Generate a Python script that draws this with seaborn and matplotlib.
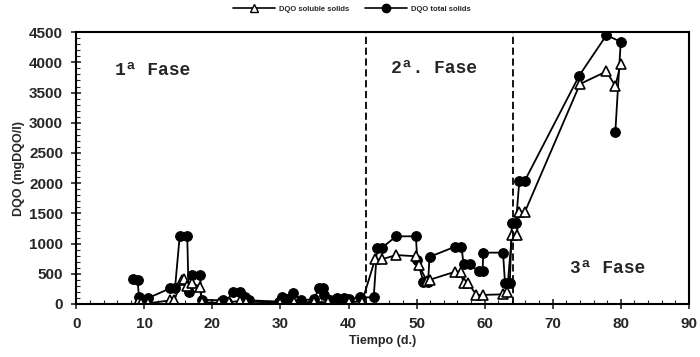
import matplotlib
matplotlib.use("Agg")
import matplotlib.pyplot as plt
import seaborn as sns
import pandas as pd
from matplotlib.lines import Line2D
from matplotlib.ticker import MultipleLocator

sns.set_style("white")
plt.rcParams['font.family'] = ['Liberation Sans', 'DejaVu Sans']

# DQO total solids
t_total = [8.4, 9.0, 9.2, 9.6, 10.6, 13.8, 14.5, 15.2, 16.3, 16.5, 17.0, 18.2, 18.4,
           21.5, 22.1, 23.0, 24.1, 24.8, 25.4, 29.8, 30.2, 31.0, 31.9, 33.0, 35.0,
           35.6, 36.2, 36.4, 37.3, 38.3, 39.3, 40.0, 41.7, 43.7, 44.2, 44.9, 47.0,
           49.9, 50.1, 51.0, 51.7, 51.9, 55.7, 56.6, 56.9, 57.8, 59.1, 59.7, 59.8,
           62.7, 63.0, 63.7, 64.0, 64.6, 65.1, 65.9, 73.9, 77.9, 80.0, 79.2]
v_total = [410, 400, 120, 30, 100, 260, 260, 1130, 1130, 200, 480, 480, 70,
           60, 40, 200, 200, 120, 60, 40, 120, 90, 180, 60, 80,
           260, 260, 150, 60, 100, 100, 80, 110, 110, 930, 930, 1120,
           1120, 730, 370, 370, 780, 950, 950, 660, 660, 540, 540, 850,
           850, 340, 340, 1340, 1340, 2040, 2040, 3780, 4450, 4340, 2840]

# DQO soluble solids
t_sol = [9.0, 9.5, 10.5, 13.8, 14.4, 15.5, 15.8, 16.2, 17.0, 18.2, 18.4,
         21.0, 22.5, 24.0, 25.0, 30.0, 32.0, 35.0, 37.0, 40.0, 42.0, 43.9,
         44.9, 47.0, 49.9, 50.3, 51.5, 51.9, 55.7, 56.5, 56.9, 57.6, 58.8,
         59.8, 62.7, 63.3, 64.0, 64.7, 65.1, 65.9, 74.0, 77.9, 79.2, 80.0]
v_sol = [30, 20, 10, 60, 60, 400, 420, 300, 350, 280, 30,
         20, 30, 50, 40, 20, 30, 30, 30, 30, 40, 740,
         740, 810, 790, 650, 380, 400, 535, 535, 340, 340, 150,
         150, 160, 200, 1140, 1140, 1520, 1520, 3640, 3850, 3610, 3970]

phase_bounds = [42.6, 64.2]
phase_labels = ["1ª Fase", "2ª. Fase", "3ª Fase"]

df_total = pd.DataFrame({"t": t_total, "v": v_total})
df_sol = pd.DataFrame({"t": t_sol, "v": v_sol})

fig = plt.figure(figsize=(7, 3.57), dpi=100)
ax = fig.add_axes([0.109, 0.1485, 0.875, 0.7615])

sns.lineplot(data=df_total, x="t", y="v", sort=False, ax=ax, color="black",
             linewidth=1.3, marker="o", markersize=7, markerfacecolor="black",
             markeredgecolor="black", estimator=None)
sns.lineplot(data=df_sol, x="t", y="v", sort=False, ax=ax, color="black",
             linewidth=1.3, marker="^", markersize=7, markerfacecolor="white",
             markeredgecolor="black", markeredgewidth=1.2, estimator=None)

for b in phase_bounds:
    ax.plot([b, b], [0, 4500], color="black", linestyle=(0, (4, 2)), linewidth=1.3)

ax.set_xlim(0, 90)
ax.set_ylim(0, 4500)
ax.xaxis.set_major_locator(MultipleLocator(10))
ax.xaxis.set_minor_locator(MultipleLocator(2))
ax.yaxis.set_major_locator(MultipleLocator(500))
ax.yaxis.set_minor_locator(MultipleLocator(100))
ax.tick_params(axis="both", which="major", direction="inout", length=7, width=1.2,
               labelsize=11, pad=6)
ax.tick_params(axis="both", which="minor", direction="in", length=3, width=0.8)
ax.tick_params(bottom=True, left=True, which="both")
for lab in ax.get_xticklabels() + ax.get_yticklabels():
    lab.set_fontweight("bold")
for s in ax.spines.values():
    s.set_color("black")
    s.set_linewidth(1.5)

ax.set_xlabel("Tiempo (d.)", fontsize=9, fontweight="bold", labelpad=3)
ax.set_ylabel("DQO (mgDQO/l)", fontsize=9, fontweight="bold", labelpad=3)

tfont = dict(family="Liberation Mono", fontweight="bold", fontsize=13)
ax.text(5.7, 3870, phase_labels[0], ha="left", va="center", **tfont)
ax.text(46.3, 3890, phase_labels[1], ha="left", va="center", **tfont)
ax.text(72.6, 590, phase_labels[2], ha="left", va="center", **tfont)

handles = [
    Line2D([0], [0], color="black", lw=1.2, marker="^", markersize=6,
           markerfacecolor="white", markeredgecolor="black"),
    Line2D([0], [0], color="black", lw=1.2, marker="o", markersize=6,
           markerfacecolor="black", markeredgecolor="black"),
]
leg = ax.legend(handles, ["DQO soluble solids", "DQO total solids"], ncol=2,
                loc="center", bbox_to_anchor=(0.45, 1.085), frameon=False,
                prop=dict(size=5.5, weight="bold"), handlelength=5.5,
                columnspacing=2.0, handletextpad=0.6, borderaxespad=0)

fig.savefig("out.png", dpi=100)
